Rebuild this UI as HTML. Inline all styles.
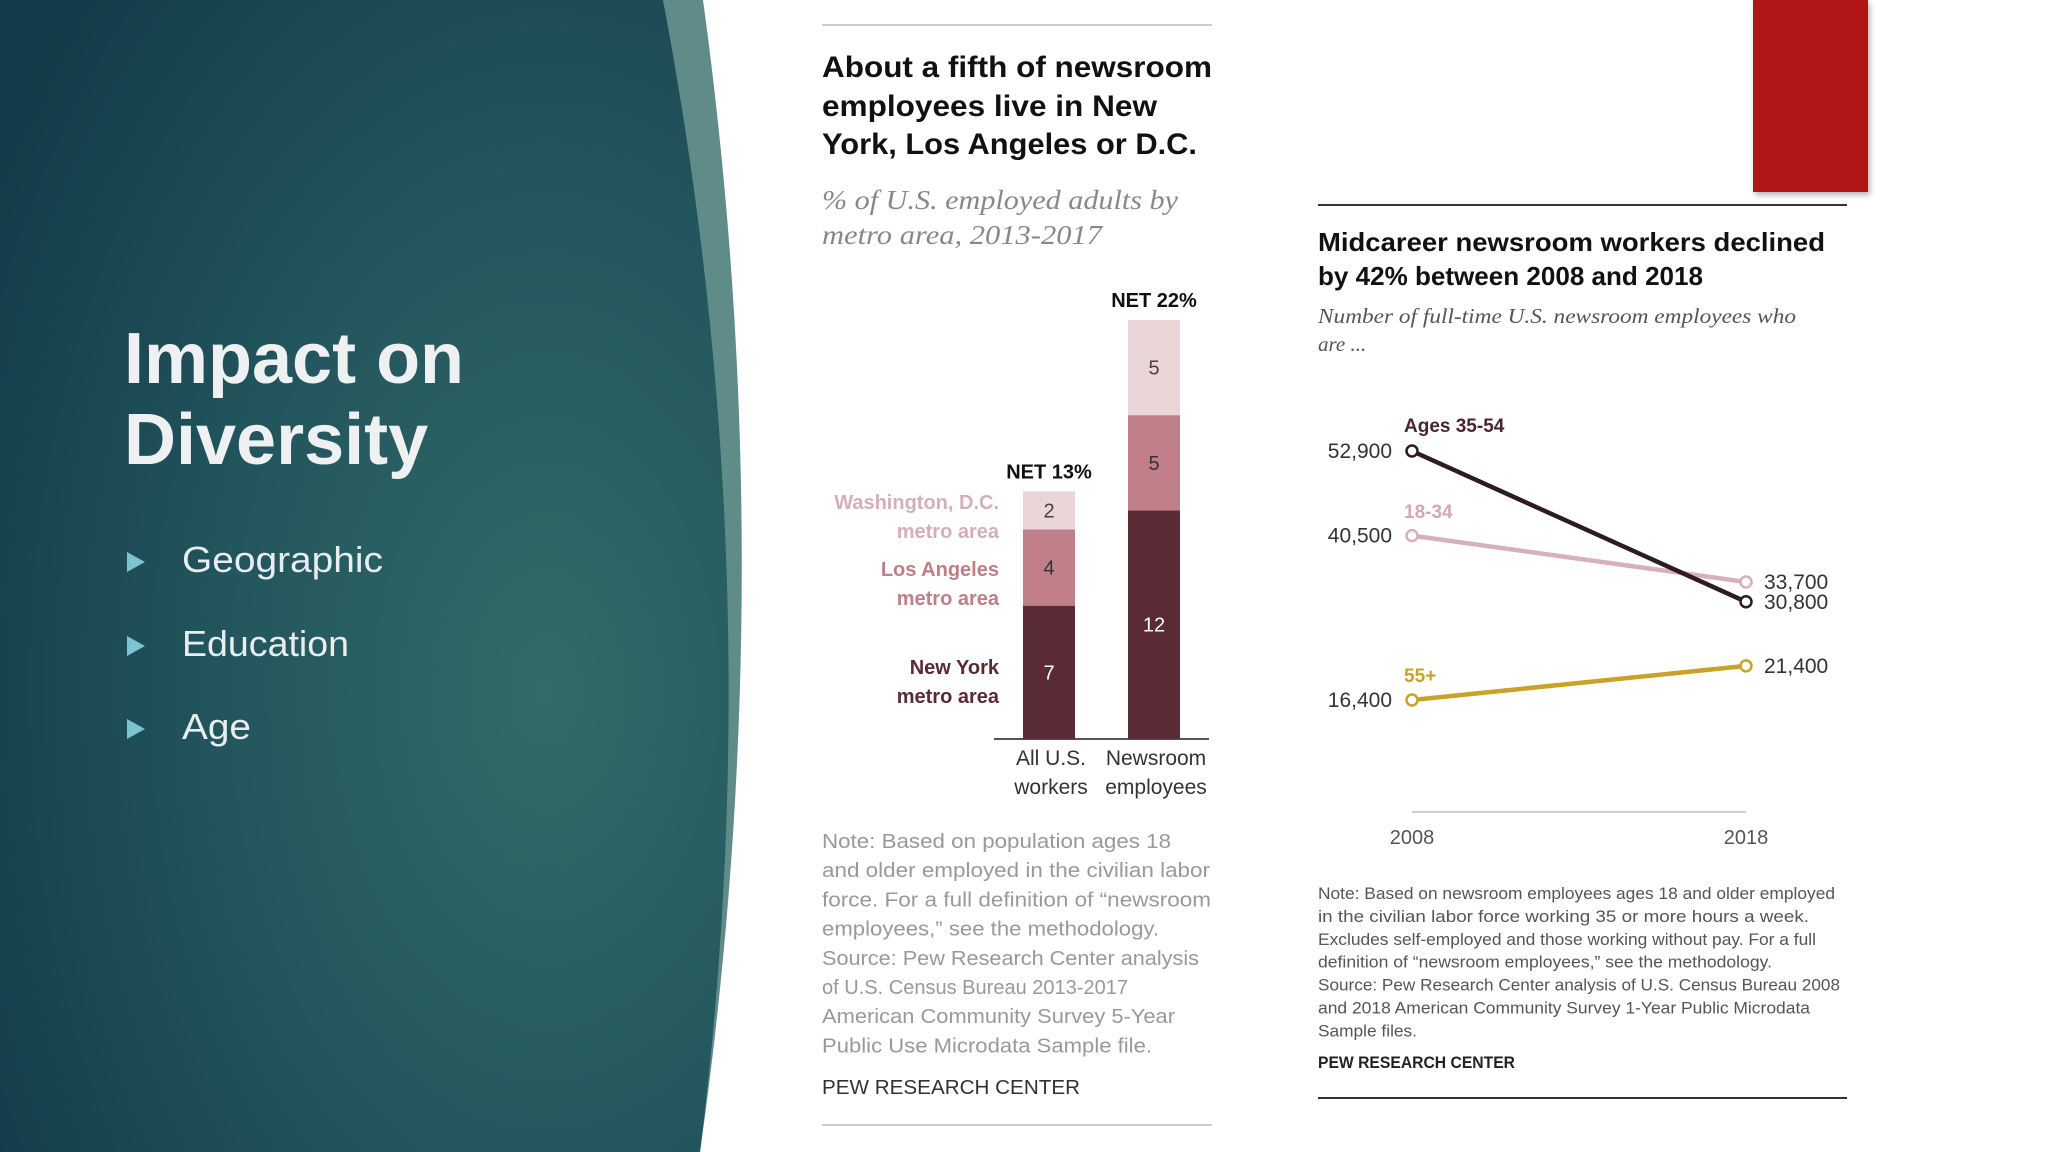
<!DOCTYPE html>
<html><head><meta charset="utf-8">
<style>
html,body{margin:0;padding:0;background:#fff;}
svg{display:block;font-family:"Liberation Sans",sans-serif;}
</style></head>
<body>
<svg id="s" width="2048" height="1152" viewBox="0 0 2048 1152" xmlns="http://www.w3.org/2000/svg">
<defs>
<radialGradient id="bg" cx="0.75" cy="0.6" r="0.9">
<stop offset="0" stop-color="#336b68"/>
<stop offset="0.5" stop-color="#22555d"/>
<stop offset="1" stop-color="#123a48"/>
</radialGradient>
<filter id="sh" x="-20%" y="-20%" width="140%" height="140%"><feDropShadow dx="2" dy="3" stdDeviation="3" flood-opacity="0.3"/></filter>
</defs>
<rect width="2048" height="1152" fill="#fff"/>
<path d="M660 0 L703 0 Q782 576 700 1152 L690 1152 Z" fill="#5f8c88"/>
<path d="M0 0 L663 0 Q772 576 700 1152 L0 1152 Z" fill="url(#bg)"/>
<g fill="#eef0f1" font-weight="bold" font-size="72">
<text x="124" y="383">Impact on</text>
<text x="124" y="464">Diversity</text>
</g>
<g font-size="36" fill="#e8eef0">
<polygon points="127,552 145,562 127,572" fill="#7cc4d0"/>
<text x="182" y="572" textLength="201" lengthAdjust="spacingAndGlyphs">Geographic</text>
<polygon points="127,636 145,646 127,656" fill="#7cc4d0"/>
<text x="182" y="656" textLength="167" lengthAdjust="spacingAndGlyphs">Education</text>
<polygon points="127,719 145,729 127,739" fill="#7cc4d0"/>
<text x="182" y="739" textLength="69" lengthAdjust="spacingAndGlyphs">Age</text>
</g>

<rect x="1753" y="0" width="115" height="192" fill="#b11818" filter="url(#sh)"/>

<g id="bar">
<line x1="822" y1="25" x2="1212" y2="25" stroke="#ccc" stroke-width="2"/>
<g font-weight="bold" font-size="30" fill="#111">
<text x="822" y="77" textLength="390" lengthAdjust="spacingAndGlyphs">About a fifth of newsroom</text>
<text x="822" y="116" textLength="335" lengthAdjust="spacingAndGlyphs">employees live in New</text>
<text x="822" y="154" textLength="375" lengthAdjust="spacingAndGlyphs">York, Los Angeles or D.C.</text>
</g>
<g font-family="Liberation Serif,serif" font-style="italic" font-size="27" fill="#888">
<text x="822" y="209" textLength="356" lengthAdjust="spacingAndGlyphs">% of U.S. employed adults by</text>
<text x="822" y="244" textLength="280" lengthAdjust="spacingAndGlyphs">metro area, 2013-2017</text>
</g>
<line x1="994" y1="739" x2="1209" y2="739" stroke="#555" stroke-width="2"/>
<g font-weight="bold" font-size="20">
<text x="999" y="509" text-anchor="end" fill="#d4b0b6">Washington, D.C.</text>
<text x="999" y="538" text-anchor="end" fill="#d4b0b6">metro area</text>
<text x="999" y="576" text-anchor="end" fill="#c07e88">Los Angeles</text>
<text x="999" y="605" text-anchor="end" fill="#c07e88">metro area</text>
<text x="999" y="674" text-anchor="end" fill="#5a2a35">New York</text>
<text x="999" y="703" text-anchor="end" fill="#5a2a35">metro area</text>
</g>
<g id="bars"></g>
<g id="barnotes" font-size="20.5" fill="#999"></g>
<text x="822" y="1094" font-size="20" fill="#333" textLength="258" lengthAdjust="spacingAndGlyphs">PEW RESEARCH CENTER</text>
<line x1="822" y1="1125" x2="1212" y2="1125" stroke="#ccc" stroke-width="2"/>
</g>

<g id="line">
<line x1="1318" y1="205" x2="1847" y2="205" stroke="#333" stroke-width="2"/>
<g font-weight="bold" font-size="26" fill="#111">
<text x="1318" y="251" textLength="507" lengthAdjust="spacingAndGlyphs">Midcareer newsroom workers declined</text>
<text x="1318" y="285" textLength="385" lengthAdjust="spacingAndGlyphs">by 42% between 2008 and 2018</text>
</g>
<g font-family="Liberation Serif,serif" font-style="italic" font-size="21" fill="#555">
<text x="1318" y="323" textLength="478" lengthAdjust="spacingAndGlyphs">Number of full-time U.S. newsroom employees who</text>
<text x="1318" y="351">are ...</text>
</g>
<g id="lines"></g>
<g id="linenotes" font-size="17" fill="#555"></g>
<text x="1318" y="1068" font-size="17" font-weight="bold" fill="#222" textLength="197" lengthAdjust="spacingAndGlyphs">PEW RESEARCH CENTER</text>
<line x1="1318" y1="1098" x2="1847" y2="1098" stroke="#333" stroke-width="2"/>
</g>
</svg>
<script>
const NS="http://www.w3.org/2000/svg";
// bar chart data
const barCategories=[["All U.S.","workers"],["Newsroom","employees"]];
const nyValues=[7,12];
const laValues=[4,5];
const dcValues=[2,5];
const netLabels=["NET 13%","NET 22%"];
// line chart data
const years=["2008","2018"];
const ages3554=[52900,30800];
const ages1834=[40500,33700];
const ages55=[16400,21400];
const seriesNames=["Ages 35-54","18-34","55+"];

function mk(tag,attrs,parent,txt){const e=document.createElementNS(NS,tag);for(const k in attrs)e.setAttribute(k,attrs[k]);if(txt!==undefined)e.textContent=txt;parent.appendChild(e);return e;}

// bar axes
const barBase=739, barUnit=19.05;
const barX=i=>[1023,1128][i];
const barW=52;
const yB=v=>barBase-v*barUnit;
const bars=document.getElementById('bars');
const stacks=[[nyValues,'#5a2a35','#fff','new-york'],[laValues,'#c07e88','#333','los-angeles'],[dcValues,'#ead5d9','#444','washington']];
for(let i=0;i<nyValues.length;i++){
  let cum=0;
  for(const [arr,col,tc,nm] of stacks){
    const v=arr[i];
    const r=mk('rect',{x:barX(i),y:yB(cum+v),width:barW,height:v*barUnit,fill:col},bars);
    
    
    const t=mk('text',{x:barX(i)+barW/2,y:yB(cum+v/2)+7,'text-anchor':'middle','font-size':20,fill:tc},bars,String(v));
    
    
    cum+=v;
  }
  const n=mk('text',{x:barX(i)+barW/2,y:yB(cum)-13,'text-anchor':'middle','font-size':20,'font-weight':'bold',fill:'#111'},bars,netLabels[i]);
  
  
  barCategories[i].forEach((s,j)=>{
    const c=mk('text',{x:barX(i)+barW/2+2,y:765+j*29,'text-anchor':'middle','font-size':21,fill:'#333'},bars,s);
    
    
  });
}
const barNotes=[["Note: Based on population ages 18",896],["and older employed in the civilian labor",926],["force. For a full definition of \u201cnewsroom",927],["employees,\u201d see the methodology.",887],["Source: Pew Research Center analysis",918],["of U.S. Census Bureau 2013-2017",863],["American Community Survey 5-Year",899],["Public Use Microdata Sample file.",882]];
const bn=document.getElementById('barnotes');
barNotes.forEach((l,i)=>mk('text',{x:822,y:848+i*29.2,textLength:Math.round((l[1]-629)*1.306),lengthAdjust:'spacingAndGlyphs'},bn,l[0]));

// line axes
const xL=i=>[1412,1746][i];
const yL=v=>700-(v-16400)*0.006822;
const lg=document.getElementById('lines');
const ax=mk('line',{x1:xL(0),y1:yL(0),x2:xL(1),y2:yL(0),stroke:'#ccc','stroke-width':2},lg);


years.forEach((y,i)=>{const t=mk('text',{x:xL(i),y:844,'text-anchor':'middle','font-size':20,fill:'#555'},lg,y);
  
  });
const series=[[ages1834,'#d8b0b8','#d4a8b0',518,'series-18-34'],[ages3554,'#2e1a22','#4a2430',432,'series-35-54'],[ages55,'#c9a227','#c9a227',682,'series-55-plus']];
const nameIdx=[1,0,2];
series.forEach((s,k)=>{
  const [vals,col,lc,ly,nm]=s;
  const p=mk('line',{x1:xL(0),y1:yL(vals[0]),x2:xL(1),y2:yL(vals[1]),stroke:col,'stroke-width':4.5},lg);
  
  
  vals.forEach((v,i)=>{
    const c=mk('circle',{cx:xL(i),cy:yL(v),r:5.5,fill:'#fff',stroke:col,'stroke-width':2.5},lg);
    
    
    const t=mk('text',{x:i?1764:1392,y:yL(v)+7,'text-anchor':i?'start':'end','font-size':21,fill:'#333'},lg,v.toLocaleString('en-US'));
    
    
  });
  const lab=mk('text',{x:1404,y:ly,'font-size':19,'font-weight':'bold',fill:lc},lg,seriesNames[nameIdx[k]]);
  
  
});
const lineNotes=[["Note: Based on newsroom employees ages 18 and older employed",1405],["in the civilian labor force working 35 or more hours a week.",1385],["Excludes self-employed and those working without pay. For a full",1390],["definition of \u201cnewsroom employees,\u201d see the methodology.",1357],["Source: Pew Research Center analysis of U.S. Census Bureau 2008",1409],["and 2018 American Community Survey 1-Year Public Microdata",1386],["Sample files.",1085]];
const ln=document.getElementById('linenotes');
lineNotes.forEach((l,i)=>mk('text',{x:1318,y:899+i*22.9,textLength:Math.round((l[1]-1009)*1.306),lengthAdjust:'spacingAndGlyphs'},ln,l[0]));
</script>
</body></html>
